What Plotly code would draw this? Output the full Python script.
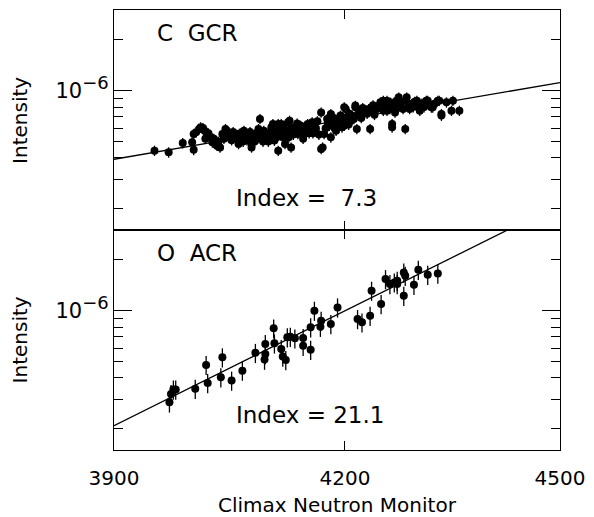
import math
import plotly.graph_objects as go

# ---------------- data ----------------
# Climax neutron monitor rate vs intensity (units of 1e-7)
c_gcr_N = [3951, 3969, 3987, 3999, 4001, 4001, 4004, 4008, 4010, 4013, 4015, 4016, 4018,
           4020, 4023, 4025, 4027, 4029, 4031, 4033, 4035, 4038, 4040, 4042, 4044, 4046,
           4048, 4050, 4052, 4055, 4057, 4059, 4061, 4063, 4065, 4066, 4068, 4070, 4072,
           4072, 4074, 4076, 4076, 4078, 4080, 4082, 4084, 4085, 4087, 4089, 4091, 4092,
           4094, 4096, 4098, 4100, 4102, 4103, 4104, 4106, 4107, 4108, 4109, 4111, 4111,
           4113, 4115, 4115, 4117, 4118, 4120, 4122, 4124, 4125, 4126, 4128, 4129, 4131,
           4133, 4135, 4136, 4137, 4139, 4141, 4143, 4144, 4146, 4148, 4150, 4152, 4154,
           4156, 4157, 4159, 4161, 4163, 4165, 4168, 4168, 4170, 4172, 4174, 4176, 4177,
           4179, 4181, 4181, 4183, 4185, 4186, 4188, 4190, 4192, 4194, 4196, 4197, 4199,
           4199, 4201, 4203, 4205, 4206, 4208, 4210, 4212, 4214, 4214, 4216, 4218, 4220,
           4222, 4224, 4226, 4228, 4230, 4232, 4234, 4236, 4238, 4240, 4243, 4245, 4248,
           4250, 4252, 4252, 4254, 4257, 4257, 4259, 4261, 4262, 4264, 4264, 4266, 4268,
           4270, 4272, 4273, 4275, 4277, 4279, 4282, 4284, 4286, 4288, 4291, 4293, 4295,
           4298, 4300, 4302, 4305, 4308, 4311, 4313, 4315, 4318, 4320, 4323, 4327, 4329,
           4332, 4332, 4339, 4346, 4348, 4357]
c_gcr_I = [4.42, 4.32, 4.90, 4.95, 4.47, 5.55, 5.67, 5.94, 6.07, 6.02, 5.80, 5.20, 5.55,
           5.60, 5.30, 4.95, 5.20, 4.84, 4.73, 5.00, 4.62, 5.55, 5.20, 5.94, 5.80, 5.30,
           5.50, 5.10, 5.70, 5.55, 5.20, 4.84, 5.60, 5.42, 5.00, 5.80, 5.30, 5.10, 5.55,
           5.30, 5.70, 4.84, 4.62, 5.40, 5.00, 5.60, 5.20, 5.94, 6.81, 5.50, 5.00, 5.80,
           5.30, 5.60, 5.00, 5.40, 6.07, 5.70, 6.36, 5.07, 5.90, 5.50, 5.30, 4.42, 6.36,
           5.90, 6.36, 5.67, 5.30, 6.10, 4.84, 5.80, 6.50, 5.30, 6.65, 4.62, 6.00, 5.50,
           6.07, 5.90, 6.40, 5.55, 5.80, 6.21, 6.00, 5.20, 5.55, 6.10, 6.36, 5.60, 5.80,
           6.50, 5.60, 6.21, 6.00, 6.60, 5.50, 7.44, 4.52, 4.62, 5.55, 6.00, 6.80, 6.36,
           6.20, 7.28, 5.30, 6.60, 6.90, 6.00, 5.80, 6.36, 6.80, 7.12, 6.07, 6.60, 6.21,
           7.97, 7.80, 7.00, 6.30, 7.30, 6.65, 7.10, 6.81, 7.97, 8.16, 5.94, 7.20, 7.60,
           6.90, 7.90, 7.44, 7.62, 7.30, 7.80, 5.94, 7.60, 8.20, 7.20, 7.97, 7.90, 8.53,
           8.10, 8.73, 7.62, 7.90, 8.73, 7.62, 8.20, 7.80, 8.50, 6.36, 6.07, 8.00, 7.44,
           8.73, 7.90, 9.13, 8.30, 8.60, 7.80, 5.94, 9.13, 8.40, 7.80, 8.35, 8.00, 8.60,
           8.73, 8.20, 7.62, 8.40, 8.00, 8.73, 8.73, 8.30, 7.97, 7.97, 8.40, 8.73, 8.73,
           7.28, 7.12, 8.53, 7.62, 8.73, 7.62]

o_acr_N = [3970, 3972, 3975, 3978, 4003, 4017, 4019, 4036, 4038, 4050, 4064, 4081, 4093,
           4094, 4094, 4105, 4106, 4115, 4117, 4121, 4123, 4127, 4133, 4144, 4144, 4154,
           4154, 4159, 4167, 4168, 4181, 4190, 4217, 4223, 4234, 4236, 4249, 4255, 4261,
           4267, 4271, 4271, 4280, 4280, 4282, 4294, 4300, 4313, 4327]
o_acr_I = [2.87, 3.22, 3.42, 3.42, 3.45, 4.78, 3.74, 4.04, 5.30, 3.86, 4.42, 5.63, 5.14,
           5.55, 6.36, 7.86, 6.41, 5.94, 5.35, 5.11, 6.96, 7.02, 6.86, 6.89, 6.21, 5.88,
           7.97, 10.0, 8.04, 8.73, 8.35, 10.46, 8.93, 8.53, 9.34, 13.13, 10.95, 15.39, 14.38,
           14.70, 15.04, 14.38, 12.26, 16.84, 16.09, 14.24, 17.47, 16.31, 16.60]

unit = 1e-7
panel_labels = ["C  GCR", "O  ACR"]
fit_index = [7.3, 21.1]
fit_norm = [3.93e-7, 2.09e-7]   # fitted intensity at N0
fit_N0 = 3900
x_ticks = [3900, 4200, 4500]
x_range = [3900, 4500]
y_range = [1.5e-7, 3e-6]
y_major = [1e-6]
y_major_text = ["10<sup><span style='font-size:18px'>\u22126</span></sup>"]
y_minor = [2e-7, 3e-7, 4e-7, 5e-7, 6e-7, 7e-7, 8e-7, 9e-7, 2e-6]
gcr_err_pct = 7
acr_err_pct = 13

# ---------------- figure ----------------
fig = go.Figure()
FONT = "DejaVu Sans"

series = [(c_gcr_N, c_gcr_I, gcr_err_pct, "x", "y"),
          (o_acr_N, o_acr_I, acr_err_pct, "x2", "y2")]

for k, (N, I, ep, xa, ya) in enumerate(series):
    fig.add_trace(go.Scatter(
        x=N, y=[v * unit for v in I], mode="markers", xaxis=xa, yaxis=ya,
        marker=dict(color="black", size=8, line=dict(width=0)),
        error_y=dict(type="percent", value=ep, color="black", thickness=1.3, width=0),
        showlegend=False, hoverinfo="skip"))
    xs = [x_range[0] + i * (x_range[1] - x_range[0]) / 100 for i in range(101)]
    ys = [fit_norm[k] * (x / fit_N0) ** fit_index[k] for x in xs]
    fig.add_trace(go.Scatter(x=xs, y=ys, mode="lines", xaxis=xa, yaxis=ya,
                             line=dict(color="black", width=1.3),
                             showlegend=False, hoverinfo="skip"))

lr = [math.log10(v) for v in x_range]
yr = [math.log10(v) for v in y_range]

xcommon = dict(type="log", range=lr, tickvals=x_ticks, ticktext=[str(t) for t in x_ticks],
               ticks="inside", ticklen=9, tickwidth=1.2, tickcolor="black",
               showline=True, linecolor="black", linewidth=1.2, mirror="ticks",
               showgrid=False, zeroline=False, ticklabelstandoff=10,
               tickfont=dict(family=FONT, size=20, color="black"))
ycommon = dict(type="log", range=yr, tickvals=y_major, ticktext=y_major_text,
               ticks="inside", ticklen=18, tickwidth=1.2, tickcolor="black",
               showline=True, linecolor="black", linewidth=1.2, mirror="ticks",
               showgrid=False, zeroline=False,
               minor=dict(tickvals=y_minor, ticks="inside", ticklen=9, tickwidth=1.2,
                          tickcolor="black", showgrid=False),
               tickfont=dict(family=FONT, size=21, color="black"))

fig.update_layout(
    width=594, height=517,
    margin=dict(l=114, r=29, t=9, b=67),
    paper_bgcolor="white", plot_bgcolor="white",
    xaxis=dict(domain=[0, 1], anchor="y", showticklabels=False, **xcommon),
    yaxis=dict(domain=[0.5, 1], anchor="x", **ycommon),
    xaxis2=dict(domain=[0, 1], anchor="y2", showticklabels=True, **xcommon),
    yaxis2=dict(domain=[0, 0.5], anchor="x2", **ycommon),
)

annots = []
for yp in [0.748, 0.249]:
    annots.append(dict(xref="paper", yref="paper", x=0, y=yp, xanchor="center",
                       yanchor="middle", xshift=-94, textangle=-90, showarrow=False,
                       text="Intensity", font=dict(family=FONT, size=20, color="black")))
annots.append(dict(xref="paper", yref="paper", x=0.5, y=-0.125, xanchor="center",
                   yanchor="middle", showarrow=False, text="Climax Neutron Monitor",
                   font=dict(family=FONT, size=20, color="black")))
for k, yp in enumerate([0.948, 0.448]):
    annots.append(dict(xref="paper", yref="paper", x=0.091, y=yp, xanchor="left",
                       yanchor="middle", showarrow=False, text=panel_labels[k].replace("  ", "&nbsp;&nbsp;"),
                       font=dict(family=FONT, size=23, color="black")))
idx_txt = ["Index =&nbsp;&nbsp;%.1f" % fit_index[0], "Index = %.1f" % fit_index[1]]
for k, yp in enumerate([0.573, 0.08]):
    annots.append(dict(xref="paper", yref="paper", x=0.268, y=yp, xanchor="left",
                       yanchor="middle", showarrow=False, text=idx_txt[k],
                       font=dict(family=FONT, size=23, color="black")))
fig.update_layout(annotations=annots)

fig.write_html("out.html", config={"displayModeBar": False},
               post_script="document.body.style.margin='0px';")
